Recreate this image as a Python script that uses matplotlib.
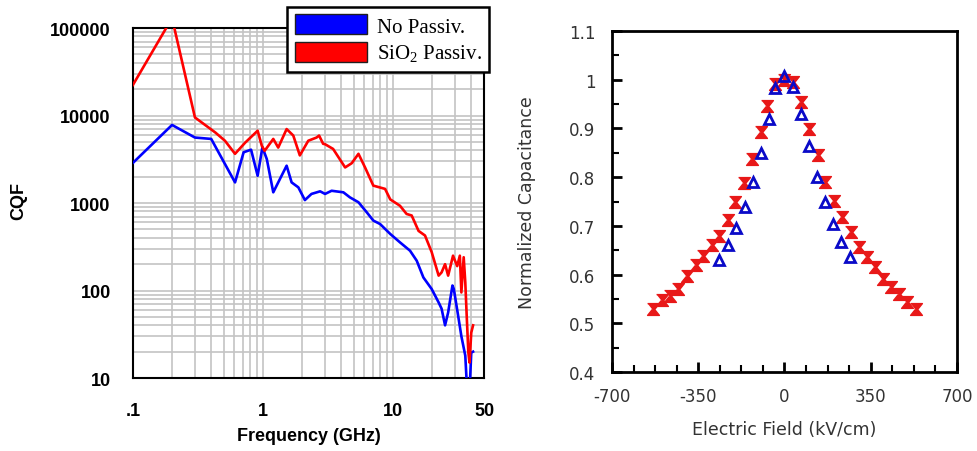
import matplotlib
matplotlib.use("Agg")
import matplotlib.pyplot as plt
from matplotlib.patches import Patch
from matplotlib.ticker import MultipleLocator, FixedLocator, NullFormatter

# CQF vs frequency (left panel)
freq_sio2 = [0.1, 0.2, 0.3, 0.43, 0.51, 0.61, 0.73, 0.91, 0.98, 1.03, 1.2, 1.31,
             1.52, 1.71, 1.92, 2.23, 2.58, 2.7, 2.9, 3.0, 3.46, 4.28, 4.81, 5.42,
             6.09, 7.05, 8.68, 9.51, 11.3, 12.7, 13.9, 15.7, 17.6, 19.8, 22.4,
             23.6, 25.1, 26.5, 28.9, 31.1, 32.6, 33.5, 34.9, 35.9, 36.8, 37.9,
             38.7, 39.9, 41.2]
cqf_sio2 = [22300, 130000, 9500, 6400, 5150, 3650, 4900, 6700, 4500, 3950, 5400,
            4300, 7000, 5900, 3500, 5150, 5600, 5900, 4750, 4700, 4150, 2550,
            2850, 3650, 2550, 1580, 1450, 1100, 930, 750, 720, 480, 425, 275,
            148, 161, 200, 148, 250, 190, 250, 95, 240, 124, 52, 19.6, 15, 33, 40]

freq_nopass = [0.1, 0.2, 0.3, 0.4, 0.61, 0.71, 0.81, 0.91, 0.99, 1.07, 1.2, 1.35,
               1.52, 1.66, 1.87, 2.1, 2.36, 2.75, 3.0, 3.37, 4.15, 4.66, 5.42,
               6.29, 7.05, 7.95, 9.51, 11.3, 13.5, 15.2, 17.1, 19.8, 22.4, 23.6,
               25.1, 26.5, 28.6, 29.3, 31.6, 33.5, 35.9, 36.8, 39.0, 39.9, 41.2]
cqf_nopass = [2870, 7800, 5600, 5400, 1720, 3800, 4070, 2050, 4330, 3180, 1325,
              1880, 2670, 1720, 1510, 1080, 1270, 1360, 1270, 1380, 1325, 1160,
              1020, 780, 630, 575, 443, 355, 285, 219, 141, 104, 73, 62, 40, 56,
              114, 104, 52, 30, 18, 9, 9, 19.5, 20]

cqf_ticks = [10, 100, 1000, 10000, 100000]
cqf_labels = ["10", "100", "1000", "10000", "100000"]
freq_ticks = [0.1, 1, 10, 50]
freq_labels = [".1", "1", "10", "50"]

# normalized capacitance vs electric field (right panel)
field_red = [-532, -497, -465, -432, -395, -361, -330, -296, -267, -230, -199,
             -165, -131, -97, -70, -37, 0, 35, 69, 101, 135, 166, 200, 234, 268,
             302, 333, 367, 401, 434, 464, 498, 532]
cap_red = [0.530, 0.547, 0.557, 0.570, 0.598, 0.619, 0.639, 0.660, 0.680, 0.713,
           0.749, 0.789, 0.838, 0.893, 0.946, 0.992, 1.000, 0.995, 0.954, 0.899,
           0.845, 0.791, 0.752, 0.718, 0.687, 0.656, 0.636, 0.615, 0.591, 0.574,
           0.561, 0.543, 0.530]

field_blue = [-264, -230, -195, -161, -127, -95, -61, -37, -3, 35, 68, 99, 130,
              164, 198, 231, 265]
cap_blue = [0.629, 0.661, 0.695, 0.739, 0.790, 0.850, 0.920, 0.983, 1.008, 0.985,
            0.930, 0.865, 0.800, 0.749, 0.704, 0.667, 0.636]

cap_ticks = [0.4, 0.5, 0.6, 0.7, 0.8, 0.9, 1.0, 1.1]
cap_labels = ["0.4", "0.5", "0.6", "0.7", "0.8", "0.9", "1", "1.1"]
field_ticks = [-700, -350, 0, 350, 700]
field_labels = ["-700", "-350", "0", "350", "700"]

plt.rcParams['font.family'] = ['Liberation Sans', 'DejaVu Sans']
plt.rcParams['mathtext.fontset'] = 'custom'
plt.rcParams['mathtext.rm'] = 'Liberation Serif'

fig = plt.figure(figsize=(9.77, 4.52), dpi=100)

# ---- left panel ----
ax = fig.add_axes([0.136, 0.1615, 0.3594, 0.7743])
ax.set_xscale('log')
ax.set_yscale('log')
ax.plot(freq_nopass, cqf_nopass, color='#0000ff', lw=1.9, zorder=3)
ax.plot(freq_sio2, cqf_sio2, color='#ff0000', lw=1.9, zorder=3)
ax.set_xlim(0.1, 50)
ax.set_ylim(10, 100000)
ax.grid(True, which='both', color='#c4c4c4', lw=1.2)
ax.set_axisbelow(True)
ax.yaxis.set_major_locator(FixedLocator(cqf_ticks))
ax.set_yticklabels(cqf_labels)
ax.xaxis.set_major_locator(FixedLocator(freq_ticks))
ax.set_xticklabels(freq_labels)
ax.xaxis.set_minor_formatter(NullFormatter())
ax.yaxis.set_minor_formatter(NullFormatter())
ax.tick_params(which='both', length=0)
ax.tick_params(axis='x', pad=17)
ax.tick_params(axis='y', pad=16)
for lab in ax.get_xticklabels() + ax.get_yticklabels():
    lab.set_fontweight('bold')
    lab.set_fontsize(13)
for s in ax.spines.values():
    s.set_linewidth(1.5)
ax.set_xlabel('Frequency (GHz)', fontsize=13, fontweight='bold')
ax.set_ylabel('CQF', fontsize=13, fontweight='bold')
ax.xaxis.set_label_coords(0.5, -0.14)
ax.yaxis.set_label_coords(-0.30, 0.51)

handles = [Patch(facecolor='#0000ff', edgecolor='#202020'),
           Patch(facecolor='#ff0000', edgecolor='#202020')]
leg = fig.legend(handles, ['No Passiv.', r'SiO$_\mathregular{2}$ Passiv.'],
                 loc='upper left', bbox_to_anchor=(0.294, 0.982),
                 prop={'family': 'Liberation Serif', 'size': 15},
                 handlelength=3.5, handleheight=1.1, labelspacing=0.25,
                 handletextpad=0.45, borderpad=0.35, borderaxespad=0,
                 fancybox=False, framealpha=1, edgecolor='black')
leg.get_frame().set_linewidth(1.8)

# ---- right panel ----
ax2 = fig.add_axes([0.6264, 0.1748, 0.3531, 0.7542])
ax2.plot(field_red, cap_red, ls='none',
         marker=[(-1, 1), (1, 1), (0.2, 0), (1, -1), (-1, -1), (-0.2, 0)],
         ms=8.5, color='#e81818', mec='#e81818', zorder=3)
ax2.plot(field_blue, cap_blue, ls='none', marker='^', ms=7.5, mfc='none',
         mec='#0a0ac8', mew=2, zorder=4)
ax2.set_xlim(-700, 700)
ax2.set_ylim(0.4, 1.1)
ax2.set_xticks(field_ticks)
ax2.set_xticklabels(field_labels)
ax2.set_yticks(cap_ticks)
ax2.set_yticklabels(cap_labels)
ax2.xaxis.set_minor_locator(MultipleLocator(87.5))
ax2.yaxis.set_minor_locator(MultipleLocator(0.05))
ax2.tick_params(which='major', direction='in', length=7, width=2,
                labelsize=12, labelcolor='#333333')
ax2.tick_params(which='minor', direction='in', length=5, width=1.5)
ax2.tick_params(axis='x', pad=11)
ax2.tick_params(axis='y', pad=12)
for lab in ax2.get_xticklabels() + ax2.get_yticklabels():
    lab.set_family('DejaVu Sans')
for s in ax2.spines.values():
    s.set_linewidth(2)
ax2.set_xlabel('Electric Field (kV/cm)', fontsize=12.5, color='#333333',
               family='DejaVu Sans')
ax2.set_ylabel('Normalized Capacitance', fontsize=12.5, color='#333333',
               family='DejaVu Sans')
ax2.xaxis.set_label_coords(0.5, -0.14)
ax2.yaxis.set_label_coords(-0.22, 0.5)

fig.savefig('out.png', dpi=100)
